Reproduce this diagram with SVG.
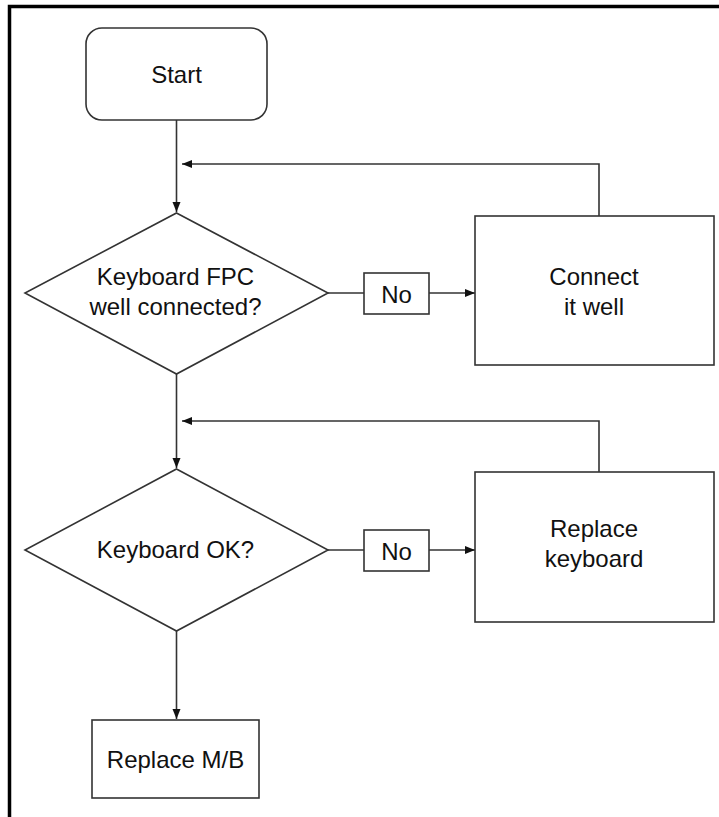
<svg xmlns="http://www.w3.org/2000/svg" width="719" height="817" viewBox="0 0 719 817">
<style>
.shape{fill:#ffffff;stroke:#333333;stroke-width:1.6}
.line{fill:none;stroke:#333333;stroke-width:1.6}
.t{font-family:"Liberation Sans",Arial,sans-serif;font-size:24px;fill:#111111;text-anchor:middle}
</style>
<defs>
<marker id="arr" viewBox="0 0 10 10" refX="10" refY="5" markerWidth="10" markerHeight="10" markerUnits="userSpaceOnUse" orient="auto">
<path d="M0,1 L10,5 L0,9 Z" fill="#111111"/>
</marker>
</defs>
<rect width="719" height="817" fill="#ffffff"/>
<path d="M9.5,817 V6.5 H719" fill="none" stroke="#000000" stroke-width="3.5"/>
<g id="connectors">
<line class="line" x1="176.5" y1="120" x2="176.5" y2="212" marker-end="url(#arr)"/>
<polyline class="line" points="599,216 599,164 182,164" marker-end="url(#arr)"/>
<line class="line" x1="328" y1="293" x2="364" y2="293"/>
<line class="line" x1="429" y1="293" x2="475" y2="293" marker-end="url(#arr)"/>
<line class="line" x1="176.5" y1="374" x2="176.5" y2="468" marker-end="url(#arr)"/>
<polyline class="line" points="599,472 599,421 182,421" marker-end="url(#arr)"/>
<line class="line" x1="328" y1="550" x2="364" y2="550"/>
<line class="line" x1="429" y1="550" x2="475" y2="550" marker-end="url(#arr)"/>
<line class="line" x1="176.5" y1="631" x2="176.5" y2="719" marker-end="url(#arr)"/>
</g>
<g id="start">
<rect class="shape" x="86" y="28" width="181" height="92" rx="16" ry="16"/>
<text class="t" x="176.5" y="83">Start</text>
</g>
<g id="decision1">
<polygon class="shape" points="176.5,213 328,293 176.5,374 25,293"/>
<text class="t" x="175.5" y="285">Keyboard FPC</text>
<text class="t" x="175.5" y="315">well connected?</text>
</g>
<g id="no1">
<rect class="shape" x="364" y="273" width="65" height="41"/>
<text class="t" x="396.5" y="303">No</text>
</g>
<g id="connect">
<rect class="shape" x="475" y="216" width="239" height="149"/>
<text class="t" x="594" y="285">Connect</text>
<text class="t" x="594" y="315">it well</text>
</g>
<g id="decision2">
<polygon class="shape" points="176.5,469 328,550 176.5,631 25,550"/>
<text class="t" x="175.5" y="558">Keyboard OK?</text>
</g>
<g id="no2">
<rect class="shape" x="364" y="530" width="65" height="41"/>
<text class="t" x="396.5" y="560">No</text>
</g>
<g id="replacekb">
<rect class="shape" x="475" y="472" width="239" height="150"/>
<text class="t" x="594" y="537">Replace</text>
<text class="t" x="594" y="567">keyboard</text>
</g>
<g id="replacemb">
<rect class="shape" x="92" y="720" width="167" height="78"/>
<text class="t" x="175.5" y="768">Replace M/B</text>
</g>
</svg>
